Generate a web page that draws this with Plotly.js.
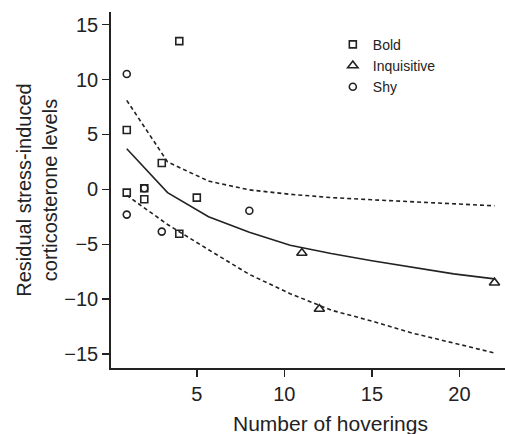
<!DOCTYPE html>
<html>
<head>
<meta charset="utf-8">
<script src="https://cdn.plot.ly/plotly-3.0.1.min.js"></script>
<style>html,body{margin:0;padding:0;background:#fff;}#chart{width:505px;height:434px;}</style>
</head>
<body>
<div id="chart"></div>
<script>
// Observed points
const boldX = [1, 1, 2, 2, 3, 4, 4, 5];
const boldY = [5.4, -0.3, 0.1, -0.9, 2.4, 13.5, -4.05, -0.75];
const inqX = [11, 12, 22];
const inqY = [-5.8, -10.9, -8.5];
const shyX = [1, 1, 2, 3, 8];
const shyY = [10.5, -2.3, 0.1, -3.85, -1.95];

// Fitted curve and confidence band
const fitX = [1, 3.33, 5.67, 8, 10.33, 12.67, 15, 17.33, 19.67, 22];
const fitY = [3.7, -0.3, -2.5, -3.9, -5.1, -5.85, -6.5, -7.1, -7.7, -8.15];
const upperY = [8.1, 2.5, 0.75, -0.05, -0.45, -0.75, -0.95, -1.15, -1.35, -1.5];
const lowerY = [-0.55, -3.2, -5.5, -7.75, -9.5, -11.0, -12.0, -13.1, -14.0, -14.9];

const yTicks = [-15, -10, -5, 0, 5, 10, 15];
const xTicks = [5, 10, 15, 20];
const yTickText = ['\u221215', '\u221210', '\u22125', '0', '5', '10', '15'];

const ink = '#222222';
const FONT = 'Liberation Sans, Arial, Helvetica, sans-serif';

const traces = [
  {x: fitX, y: fitY, mode: 'lines', line: {color: ink, width: 1.6}, showlegend: false, hoverinfo: 'skip'},
  {x: fitX, y: upperY, mode: 'lines', line: {color: ink, width: 1.6, dash: '4px,3px'}, showlegend: false, hoverinfo: 'skip'},
  {x: fitX, y: lowerY, mode: 'lines', line: {color: ink, width: 1.6, dash: '4px,3px'}, showlegend: false, hoverinfo: 'skip'},
  {x: boldX, y: boldY, mode: 'markers', name: 'Bold',
   marker: {symbol: 'square-open', size: 7, color: ink, line: {width: 1.6, color: ink}}},
  {x: inqX, y: inqY, mode: 'markers', name: 'Inquisitive',
   marker: {symbol: 'triangle-up-open', size: 9, color: ink, line: {width: 1.6, color: ink}}},
  {x: shyX, y: shyY, mode: 'markers', name: 'Shy',
   marker: {symbol: 'circle-open', size: 7, color: ink, line: {width: 1.6, color: ink}}}
];

const layout = {
  width: 505, height: 434,
  margin: {l: 111, r: 0, t: 12, b: 66},
  paper_bgcolor: '#fff', plot_bgcolor: '#fff',
  font: {family: FONT, color: ink},
  showlegend: true,
  legend: {x: 0.563, y: 0.953, xanchor: 'left', yanchor: 'top',
           font: {size: 14, family: FONT, color: ink}, bgcolor: 'rgba(0,0,0,0)',
           tracegroupgap: 0, itemclick: false},
  xaxis: {
    range: [0.1, 22.6], showgrid: false, zeroline: false,
    showline: true, linecolor: ink, linewidth: 1.8,
    ticks: 'outside', ticklen: 7, tickwidth: 1.5, tickcolor: ink,
    tickmode: 'array', tickvals: xTicks,
    tickfont: {size: 20, family: FONT, color: ink}
  },
  yaxis: {
    range: [-16.27, 16.15], showgrid: false, zeroline: false,
    showline: true, linecolor: ink, linewidth: 1.8,
    ticks: 'outside', ticklen: 7, tickwidth: 1.5, tickcolor: ink,
    tickmode: 'array', tickvals: yTicks, ticktext: yTickText,
    tickfont: {size: 20, family: FONT, color: ink},
    title: {text: 'Residual stress-induced<br>corticosterone levels', standoff: 1,
            font: {size: 20, family: FONT, color: ink}}
  },
  annotations: [
    {text: 'Number of hoverings', xref: 'paper', yref: 'paper', x: 0.556, y: -0.156,
     xanchor: 'center', yanchor: 'middle', showarrow: false,
     font: {size: 21, family: FONT, color: ink}}
  ]
};

Plotly.newPlot('chart', traces, layout, {staticPlot: true, displayModeBar: false});
</script>
</body>
</html>
